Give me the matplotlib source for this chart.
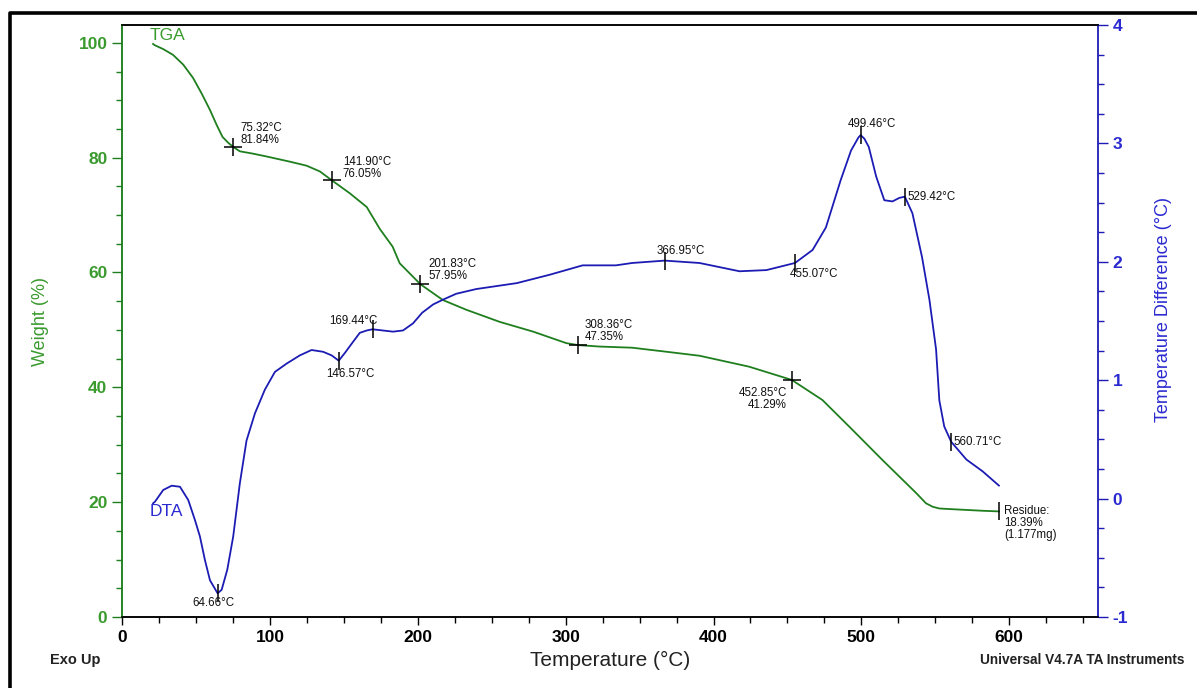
import matplotlib
matplotlib.use("Agg")
import matplotlib.pyplot as plt
from matplotlib.ticker import MultipleLocator
from matplotlib.lines import Line2D
import numpy as np

plt.rcParams['font.family'] = ['Liberation Sans', 'DejaVu Sans']
plt.rcParams['axes.unicode_minus'] = False

GREEN = '#1f7f1f'
GREEN_TXT = '#3a9a2e'
BLUE = '#1c1cb4'
BLUE_TXT = '#2a2ad0'

# TGA curve: temperature (°C) vs weight (%)
tga_temp = [21, 22, 27.9, 34.5, 41.4, 48, 53.8, 59.5, 64, 68, 71.8, 75.3, 79.7, 88.5, 97.8,
            113.5, 124.8, 133.8, 141.9, 154, 165.5, 174.3, 183, 187.8, 201.8, 217, 232.9,
            255.4, 278, 300.4, 308.4, 323, 345, 368, 390.5, 424, 452.9, 473.6, 492, 514,
            537, 543.7, 548.2, 552.7, 559.5, 582, 593]
tga_weight = [99.8, 99.6, 98.9, 97.9, 96.2, 93.9, 91.2, 88.3, 85.7, 83.6, 82.6, 81.84, 81.1, 80.7, 80.2,
              79.3, 78.6, 77.6, 76.05, 73.8, 71.4, 67.6, 64.5, 61.6, 57.95, 55.2, 53.5,
              51.4, 49.7, 47.7, 47.35, 47.1, 46.9, 46.2, 45.5, 43.6, 41.29, 37.8, 33.1, 27.4,
              21.6, 19.8, 19.2, 18.9, 18.8, 18.5, 18.39]

# DTA curve: temperature (°C) vs temperature difference (°C)
dta_temp = [21, 22.3, 27.9, 33.6, 39.2, 44.8, 49.3, 52.7, 56.1, 59.5, 64.66, 67.4, 71.2,
            75.2, 79.7, 84.2, 89.9, 96.6, 103.4, 111.3, 120.3, 128.2, 136, 141.7, 146.57,
            150.7, 156.3, 160.8, 165.5, 169.4, 183.3, 190, 196.8, 203, 210.4, 217, 226,
            239.6, 267, 289, 311.5, 334, 345, 367, 390.5, 417.6, 435.8, 455.1, 467, 476,
            486, 493, 498, 499.5, 502, 505, 510, 515.5, 521, 525.7, 529.4, 534.5, 541,
            546, 550.5, 552.7, 556, 560.7, 571, 582, 593]
dta_diff = [-0.04, -0.026, 0.073, 0.109, 0.10, -0.012, -0.18, -0.32, -0.52, -0.69, -0.80, -0.77, -0.60,
            -0.32, 0.13, 0.49, 0.72, 0.92, 1.07, 1.14, 1.21, 1.255, 1.24, 1.21, 1.165,
            1.23, 1.325, 1.40, 1.42, 1.43, 1.41, 1.42, 1.48, 1.57, 1.64, 1.68, 1.73,
            1.77, 1.82, 1.89, 1.97, 1.97, 1.99, 2.01, 1.99, 1.92, 1.93, 1.99, 2.10, 2.29,
            2.69, 2.94, 3.05, 3.07, 3.04, 2.97, 2.72, 2.52, 2.51, 2.54, 2.55, 2.41, 2.04,
            1.68, 1.26, 0.83, 0.61, 0.48, 0.33, 0.23, 0.11]

# annotated points
tga_mark_t = [75.32, 141.90, 201.83, 308.36, 452.85]
tga_mark_w = [81.84, 76.05, 57.95, 47.35, 41.29]
dta_mark_t = [64.66, 146.57, 169.44, 366.95, 455.07, 499.46, 529.42, 560.71]
residue_t = 593
residue_w = 18.39
residue_mg = 1.177

fig = plt.figure(figsize=(11.97, 6.88), dpi=100)
ax = fig.add_axes([122 / 1197, 1 - 617 / 688, (1098 - 122) / 1197, (617 - 25) / 688])
ax2 = ax.twinx()

ax.plot(tga_temp, tga_weight, color=GREEN, lw=1.3)
ax2.plot(dta_temp, dta_diff, color=BLUE, lw=1.3)

ax.set_xlim(0, 660)
ax.set_ylim(0, 103.1)
ax2.set_ylim(-1, 4)

ax.xaxis.set_major_locator(MultipleLocator(100))
ax.xaxis.set_minor_locator(MultipleLocator(25))
ax.yaxis.set_major_locator(MultipleLocator(20))
ax.yaxis.set_minor_locator(MultipleLocator(5))
ax2.yaxis.set_major_locator(MultipleLocator(1))
ax2.yaxis.set_minor_locator(MultipleLocator(0.25))

ax.tick_params(axis='x', which='both', direction='out', colors='black', labelsize=12.5, width=1)
ax.tick_params(axis='x', which='major', length=6)
ax.tick_params(axis='x', which='minor', length=4)
ax.tick_params(axis='y', which='both', direction='out', colors=GREEN, labelcolor=GREEN_TXT,
               labelsize=12.5, width=1)
ax.tick_params(axis='y', which='major', length=7)
ax.tick_params(axis='y', which='minor', length=4)
ax2.tick_params(axis='y', which='both', direction='out', colors=BLUE, labelcolor=BLUE_TXT,
                labelsize=12.5, width=1)
ax2.tick_params(axis='y', which='major', length=7)
ax2.tick_params(axis='y', which='minor', length=4)
for lab in ax.get_xticklabels() + ax.get_yticklabels() + ax2.get_yticklabels():
    lab.set_fontweight('bold')

ax.spines['left'].set_color(GREEN)
ax2.spines['left'].set_color(GREEN)
ax2.spines['right'].set_color(BLUE)
ax.spines['right'].set_visible(False)
for a in (ax, ax2):
    for s in a.spines.values():
        s.set_linewidth(1.1)
ax2.spines['right'].set_linewidth(1.3)

ax.set_xlabel('Temperature (°C)', fontsize=15, color='#222222', labelpad=4)
ax.set_ylabel('Weight (%)', fontsize=13, color=GREEN_TXT)
ax2.set_ylabel('Temperature Difference (°C)', fontsize=13, color=BLUE_TXT)
ax.yaxis.set_label_coords(-0.075, 0.5)
ax2.yaxis.set_label_coords(1.058, 0.52)

# TGA markers with labels
ax.plot(tga_mark_t, tga_mark_w, ls='none', marker='+', ms=13, mew=1.1, color='black')
tga_offsets = [(7, 25, 'left'), (11, 24, 'left'), (8, 26, 'left'), (7, 26, 'left'), (-5, -7, 'right')]
for t, w, (dx, dy, ha) in zip(tga_mark_t, tga_mark_w, tga_offsets):
    ax.annotate(f'{t:.2f}°C\n{w:.2f}%', (t, w), xytext=(dx, dy), textcoords='offset pixels',
                ha=ha, va='top', fontsize=8.3, linespacing=1.0, color='#111111')

# DTA markers with labels
dta_mark_y = np.interp(dta_mark_t, dta_temp, dta_diff)
ax2.plot(dta_mark_t, dta_mark_y, ls='none', marker='|', ms=13, mew=1.1, color='black')
dta_offsets = [(-4, -4, 'center', 'top'), (-13, -7, 'left', 'top'), (-43, 2, 'left', 'bottom'),
               (-8, 4, 'left', 'bottom'), (-5, -5, 'left', 'top'), (-13, 5, 'left', 'bottom'),
               (3, 0, 'left', 'center'), (2, 0, 'left', 'center')]
for t, y, (dx, dy, ha, va) in zip(dta_mark_t, dta_mark_y, dta_offsets):
    ax2.annotate(f'{t:.2f}°C', (t, y), xytext=(dx, dy), textcoords='offset pixels',
                 ha=ha, va=va, fontsize=8.3, color='#111111')

# residue
ax.plot([residue_t], [residue_w], ls='none', marker='|', ms=13, mew=1.1, color='black')
ax.annotate(f'Residue:\n{residue_w:.2f}%\n({residue_mg:.3f}mg)', (residue_t, residue_w),
            xytext=(5, 6), textcoords='offset pixels', ha='left', va='top',
            fontsize=8.3, linespacing=1.0, color='#111111')

# curve names
fig.text(150 / 1197, 1 - 36 / 688, 'TGA', color=GREEN_TXT, fontsize=12.5, ha='left', va='center')
fig.text(150 / 1197, 1 - 512 / 688, 'DTA', color=BLUE_TXT, fontsize=12.5, ha='left', va='center')

fig.text(50 / 1197, 1 - 660 / 688, 'Exo Up', fontsize=10.5, fontweight='bold', color='#222222',
         ha='left', va='center')
fig.text(980 / 1197, 1 - 660 / 688, 'Universal V4.7A TA Instruments', fontsize=9.8,
         fontweight='bold', color='#222222', ha='left', va='center')

# outer frame
fig.add_artist(Line2D([10 / 1197, 10 / 1197, 1.0], [0, 1 - 13 / 688, 1 - 13 / 688],
                      transform=fig.transFigure, color='black', lw=2.6))

fig.savefig('out.png', dpi=100)
